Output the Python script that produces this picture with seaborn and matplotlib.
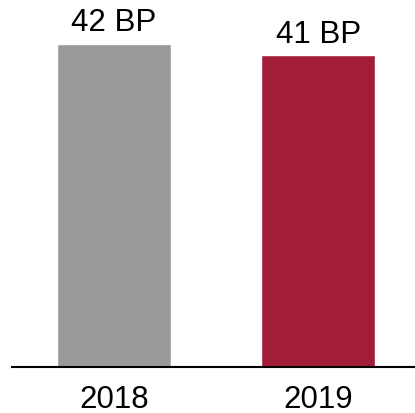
import matplotlib
matplotlib.use("Agg")
import pandas as pd
import seaborn as sns
import matplotlib.pyplot as plt

years = ["2018", "2019"]
values = [42.0, 40.5]
labels = ["42 BP", "41 BP"]
colors = ["#999999", "#A21D37"]

df = pd.DataFrame({"year": years, "value": values})

sns.set_style("white")
plt.rcParams["font.family"] = ["Liberation Sans", "DejaVu Sans"]

fig = plt.figure(figsize=(4.15, 4.13), dpi=100)
ax = fig.add_axes([0.029, 0.1114, 0.971, 0.8886])

sns.barplot(data=df, x="year", y="value", hue="year", palette=colors,
            width=0.56, saturation=1, legend=False, ax=ax)

for i, (v, lab) in enumerate(zip(values, labels)):
    ax.annotate(lab, (i, v), xytext=(0, 9), textcoords="offset points",
                ha="center", va="baseline", fontsize=22.5, color="black")

ax.set_xlim(-0.5, 1.475)
ax.set_ylim(0, 47.7)
ax.set_xlabel("")
ax.set_ylabel("")
ax.set_yticks([])
ax.tick_params(axis="x", length=0, pad=13, labelsize=22.5, labelcolor="black")
for s in ["top", "right", "left"]:
    ax.spines[s].set_visible(False)
ax.spines["bottom"].set_color("black")
ax.spines["bottom"].set_linewidth(1.5)

fig.savefig("out.png", dpi=100)
